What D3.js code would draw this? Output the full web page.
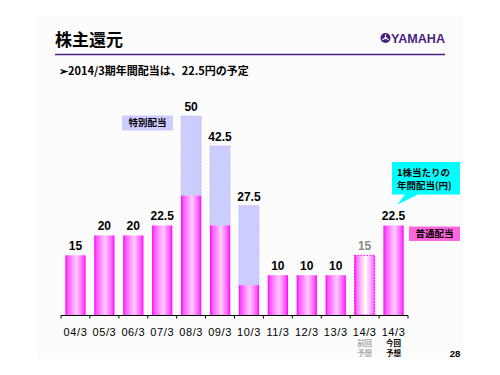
<!DOCTYPE html>
<html>
<head>
<meta charset="utf-8">
<script src="https://cdn.jsdelivr.net/npm/d3@7"></script>
<style>
  body { margin: 0; background: #fff; }
  svg { display: block; }
  .jp { font-family: "Noto Sans CJK JP", sans-serif; font-weight: bold; }
  .num { font-family: "Liberation Sans", Arial, sans-serif; font-weight: bold; }
</style>
</head>
<body>
<div id="chart"></div>
<script>
// Data
const periods = ['04/3', '05/3', '06/3', '07/3', '08/3', '09/3', '10/3', '11/3', '12/3', '13/3', '14/3', '14/3'];
const regular = [15, 20, 20, 22.5, 30, 22.5, 7.5, 10, 10, 10, 15, 22.5];
const special = [0, 0, 0, 0, 20, 20, 20, 0, 0, 0, 0, 0];
const totalLabels = ['15', '20', '20', '22.5', '50', '42.5', '27.5', '10', '10', '10', '15', '22.5'];
const PREV_FORECAST = 10; // index of the earlier forecast bar

const W = 500, H = 375;
const svg = d3.select('#chart').append('svg').attr('width', W).attr('height', H);

// slide background
svg.append('rect').attr('x', 37).attr('y', 15).attr('width', 426).attr('height', 343).attr('fill', '#fcfcfc');

// gradients
const defs = svg.append('defs');
function grad(id, stops) {
    const g = defs.append('linearGradient').attr('id', id).attr('x1', '0%').attr('x2', '100%').attr('y1', '0%').attr('y2', '0%');
    stops.forEach(s => g.append('stop').attr('offset', s[0]).attr('stop-color', s[1]));
}
grad('barGrad', [[0, '#ff00ff'], [0.12, '#ff55ff'], [0.55, '#ffccff'], [0.88, '#ff55ff'], [1, '#ff00ff']]);
grad('prevGrad', [[0, '#ff00ff'], [0.15, '#ff88ff'], [0.55, '#ffffff'], [0.85, '#ff99ff'], [1, '#ff44ff']]);

// header
svg.append('text').attr('class', 'jp').attr('x', 55).attr('y', 46).attr('font-size', 17).text('株主還元');
svg.append('line').attr('x1', 55).attr('x2', 445).attr('y1', 54.5).attr('y2', 54.5)
    .attr('stroke', '#4b1e82').attr('stroke-width', 1.6);

// logo
const logo = svg.append('g').attr('transform', 'translate(385.5,38)');
logo.append('circle').attr('r', 5).attr('fill', '#4b1e82');
[0, 120, 240].forEach(a => {
    logo.append('line').attr('x1', 0).attr('y1', 0).attr('x2', 0).attr('y2', -3.6)
        .attr('transform', `rotate(${a})`).attr('stroke', '#fff').attr('stroke-width', 1);
});
logo.append('circle').attr('r', 1.2).attr('fill', '#fff');
svg.append('text').attr('class', 'num').attr('x', 391).attr('y', 43).attr('font-size', 13)
    .attr('fill', '#4b1e82').attr('textLength', 54).attr('lengthAdjust', 'spacingAndGlyphs').text('YAMAHA');

svg.append('text').attr('class', 'jp').attr('x', 59).attr('y', 75).attr('font-size', 11)
    .text('➢2014/3期年間配当は、22.5円の予定');

// scales
const x = d3.scaleBand().domain(d3.range(periods.length)).range([61, 408]).paddingInner(0.3).paddingOuter(0.15);
const y = d3.scaleLinear().domain([0, 50]).range([315, 116]);

const g = svg.append('g');

// special dividend segments
g.selectAll('.special').data(d3.range(periods.length).filter(i => special[i] > 0)).enter()
    .append('rect')
    .attr('x', i => x(i)).attr('width', x.bandwidth())
    .attr('y', i => y(regular[i] + special[i]))
    .attr('height', i => y(regular[i]) - y(regular[i] + special[i]))
    .attr('fill', '#ccccff').attr('stroke', '#b8b8f0').attr('stroke-width', 0.8).attr('stroke-dasharray', '1.5,1.5');

// regular dividend bars
g.selectAll('.regular').data(d3.range(periods.length)).enter()
    .append('rect')
    .attr('x', i => x(i)).attr('width', x.bandwidth())
    .attr('y', i => y(regular[i]))
    .attr('height', i => y(0) - y(regular[i]))
    .attr('fill', i => i === PREV_FORECAST ? 'url(#prevGrad)' : 'url(#barGrad)')
    .attr('stroke', i => i === PREV_FORECAST ? '#ff00ff' : 'none')
    .attr('stroke-width', 1).attr('stroke-dasharray', '1.5,1.5');

// value labels
g.selectAll('.val').data(d3.range(periods.length)).enter()
    .append('text').attr('class', 'num')
    .attr('x', i => x(i) + x.bandwidth() / 2)
    .attr('y', i => y(regular[i] + special[i]) - 5)
    .attr('text-anchor', 'middle').attr('font-size', 12)
    .attr('fill', i => i === PREV_FORECAST ? '#888' : '#000')
    .text(i => totalLabels[i]);

// axis
const ax = svg.append('g');
ax.append('line').attr('x1', 61).attr('x2', 408).attr('y1', 315.5).attr('y2', 315.5).attr('stroke', '#000');
const step = x.step();
const bounds = d3.range(periods.length + 1).map(i => x(0) - x.paddingInner() * step / 2 + i * step);
ax.selectAll('.tick').data(bounds).enter().append('line')
    .attr('x1', d => d).attr('x2', d => d).attr('y1', 315.5).attr('y2', 318.5).attr('stroke', '#000');
ax.selectAll('.lab').data(d3.range(periods.length)).enter().append('text')
    .attr('x', i => x(i) + x.bandwidth() / 2).attr('y', 336)
    .attr('text-anchor', 'middle').attr('font-size', 11).attr('letter-spacing', 0.6)
    .attr('font-family', '"Liberation Sans", Arial, sans-serif')
    .text(i => periods[i]);

// sub labels under the 14/3 bars
const subs = [[PREV_FORECAST, ['前回', '予想'], '#aaa'], [11, ['今回', '予想'], '#000']];
subs.forEach(([i, lines, col]) => {
    lines.forEach((t, k) => {
        svg.append('text').attr('class', 'jp').attr('x', x(i) + x.bandwidth() / 2).attr('y', 346 + k * 10)
            .attr('text-anchor', 'middle').attr('font-size', 7.5).attr('fill', col).text(t);
    });
});

svg.append('text').attr('class', 'num').attr('x', 455).attr('y', 357).attr('text-anchor', 'middle')
    .attr('font-size', 9.5).text('28');

// legend boxes
function legendBox(x0, y0, w, h, fill, label) {
    svg.append('rect').attr('x', x0).attr('y', y0).attr('width', w).attr('height', h).attr('fill', fill);
    svg.append('text').attr('class', 'jp').attr('x', x0 + w / 2).attr('y', y0 + h / 2 + 3.3)
        .attr('text-anchor', 'middle').attr('font-size', 9.5).text(label);
}
legendBox(122, 115.5, 51, 15, '#ccccff', '特別配当');
legendBox(409, 226.5, 51, 14.5, '#ff66dd', '普通配当');

// callout
svg.append('path').attr('d', 'M392,162 H460 V194.5 H418 L397.5,204.5 L405,194.5 H392 Z').attr('fill', '#00ffff');
svg.append('text').attr('class', 'jp').attr('x', 397).attr('y', 176).attr('font-size', 9.5).text('1株当たりの');
svg.append('text').attr('class', 'jp').attr('x', 397).attr('y', 189).attr('font-size', 9.5).text('年間配当(円)');
</script>
</body>
</html>
